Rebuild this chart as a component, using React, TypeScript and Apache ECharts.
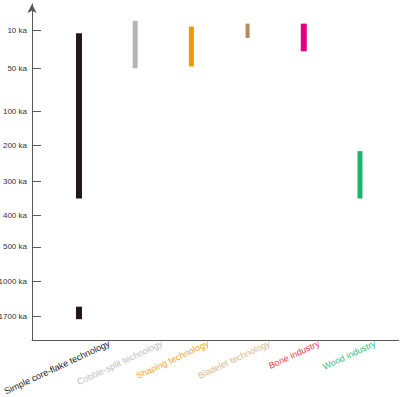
import React, { useEffect, useRef } from "react";
import * as echarts from "echarts";

// ---- data ----
const CATEGORIES = [
  "Simple core-flake technology",
  "Cobble-split technology",
  "Shaping technology",
  "Bladelet technology",
  "Bone industry",
  "Wood industry",
];
const TICK_KA = [10, 50, 100, 200, 300, 400, 500, 1000, 1700];
const TICK_LABELS = TICK_KA.map((v) => `${v} ka`);

// time ranges (ka) per segment, each tied to a category index
const SEG_CATEGORY = [0, 0, 1, 2, 3, 4, 5];
const SEG_FROM_KA = [13, 1500, 0, 6, 3, 3, 216];
const SEG_TO_KA = [350, 1750, 50, 48, 18, 32, 350];

// ---- irregular (hand-drawn) axis scale: slot of each tick ----
const TICK_SLOT = [1, 2.061, 3.254, 4.212, 5.229, 6.168, 7.053, 8.022, 9];
const AXIS_TOP_SLOT = 0.265;
const AXIS_BOTTOM_SLOT = 9.651;

// ---- styles / layout ----
const BAR_COLORS = ["#231815", "#b5b5b5", "#f39800", "#b88b55", "#e4007f", "#1db46e"];
const LABEL_COLORS = ["#231815", "#bdbdbd", "#f5a42a", "#d6ba8e", "#e8403d", "#3dbb78"];
const BAR_WIDTHS = [6, 5, 5, 4, 6, 5];
const LABEL_NUDGE = [0.54, 0.48, 0.3, 0.39, 0.27, 0.27];
const AXIS_COLOR = "#595757";
const FONT = "'Liberation Sans', Arial, sans-serif";

function kaToAxis(ka: number): number {
  const n = TICK_KA.length;
  let i = 0;
  while (i < n - 2 && ka > TICK_KA[i + 1]) i++;
  const t = (ka - TICK_KA[i]) / (TICK_KA[i + 1] - TICK_KA[i]);
  const slot = TICK_SLOT[i] + t * (TICK_SLOT[i + 1] - TICK_SLOT[i]);
  return -slot;
}

export default function App() {
  const ref = useRef<HTMLDivElement>(null);
  useEffect(() => {
    if (!ref.current) return;
    const chart = echarts.init(ref.current, null, { renderer: "svg" });
    const rich: Record<string, any> = {};
    CATEGORIES.forEach((_, i) => {
      rich["c" + i] = { color: LABEL_COLORS[i], fontSize: 9, fontFamily: FONT };
    });
    const segData = SEG_CATEGORY.map((c, k) => [
      c,
      kaToAxis(SEG_FROM_KA[k]),
      kaToAxis(SEG_TO_KA[k]),
    ]);
    chart.setOption({
      animation: false,
      backgroundColor: "#ffffff",
      grid: {
        left: 32,
        right: 1.3,
        top: 4,
        bottom: 57,
        containLabel: false,
        outerBoundsMode: "none",
      },
      xAxis: {
        type: "value",
        min: -0.836,
        max: 5.689,
        splitLine: { show: false },
        axisTick: { show: false },
        axisLine: { show: true, onZero: false, lineStyle: { color: AXIS_COLOR, width: 1 } },
        axisLabel: {
          show: true,
          rotate: 25,
          margin: 3,
          customValues: CATEGORIES.map((_, i) => i + LABEL_NUDGE[i]),
          formatter: (v: number) => {
            const i = Math.floor(v + 1e-6);
            return `{c${i}|${CATEGORIES[i]}}`;
          },
          rich,
          fontSize: 9,
          fontFamily: FONT,
        },
      },
      yAxis: {
        type: "value",
        min: -AXIS_BOTTOM_SLOT,
        max: -AXIS_TOP_SLOT,
        splitLine: { show: false },
        axisLine: {
          show: true,
          onZero: false,
          symbol: ["none", "arrow"],
          symbolSize: [7, 9],
          lineStyle: { color: AXIS_COLOR, width: 1 },
        },
        axisTick: {
          show: true,
          inside: true,
          length: 9,
          customValues: TICK_SLOT.map((s) => -s),
          lineStyle: { color: AXIS_COLOR, width: 1 },
        },
        axisLabel: {
          show: true,
          margin: 5,
          color: "#333333",
          fontSize: 8,
          fontFamily: FONT,
          customValues: TICK_SLOT.map((s) => -s),
          formatter: (v: number) => {
            const i = TICK_SLOT.findIndex((s) => Math.abs(-s - v) < 1e-6);
            return i >= 0 ? TICK_LABELS[i] : "";
          },
        },
      },
      series: [
        {
          type: "custom",
          data: segData,
          encode: { x: 0, y: [1, 2] },
          renderItem: (params: any, api: any) => {
            const c = api.value(0);
            const p0 = api.coord([c, api.value(1)]);
            const p1 = api.coord([c, api.value(2)]);
            const w = BAR_WIDTHS[c];
            return {
              type: "rect",
              shape: {
                x: p0[0] - w / 2,
                y: Math.min(p0[1], p1[1]),
                width: w,
                height: Math.abs(p1[1] - p0[1]),
              },
              style: { fill: BAR_COLORS[c] },
            };
          },
        },
      ],
    });
    return () => chart.dispose();
  }, []);
  return (
    <div
      ref={ref}
      style={{ position: "fixed", left: 0, top: 0, width: 400, height: 397, background: "#fff" }}
    />
  );
}
